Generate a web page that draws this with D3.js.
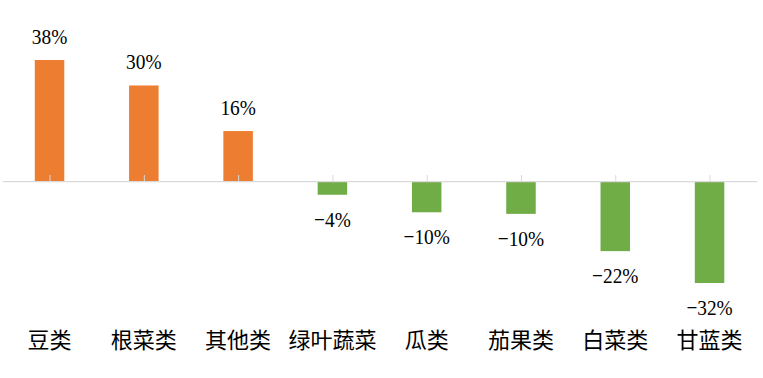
<!DOCTYPE html>
<html>
<head>
<meta charset="utf-8">
<script src="https://cdn.jsdelivr.net/npm/d3@7"></script>
<style>
  html, body { margin: 0; padding: 0; background: #fff; }
  svg { display: block; }
</style>
</head>
<body>
<svg id="chart" width="763" height="378"></svg>
<script>
// ---- data ----
const categories = ["豆类", "根菜类", "其他类", "绿叶蔬菜", "瓜类", "茄果类", "白菜类", "甘蓝类"];
const values = [38.0, 30.0, 15.7, -4.3, -9.8, -10.3, -22.0, -32.0];
const labels = ["38%", "30%", "16%", "\u22124%", "\u221210%", "\u221210%", "\u221222%", "\u221232%"];

const data = categories.map((c, i) => ({ cat: c, value: values[i], label: labels[i] }));

// ---- layout ----
const W = 763, H = 378;
const svg = d3.select("#chart");

const x = d3.scalePoint().domain(categories).range([2.4, 756.7]).padding(0.5);
const y = d3.scaleLinear().domain([-32, 38]).range([283, 60]);
const barW = 29.5;

const posColor = "#ED7D31";
const negColor = "#70AD47";

// bars
svg.append("g").selectAll("rect").data(data).join("rect")
  .attr("x", d => x(d.cat) - barW / 2)
  .attr("y", d => Math.min(y(d.value), y(0)))
  .attr("width", barW)
  .attr("height", d => Math.abs(y(d.value) - y(0)))
  .attr("fill", d => d.value >= 0 ? posColor : negColor);

// zero axis with ticks at category centres
const axis = svg.append("g")
  .attr("transform", `translate(0,${y(0)})`)
  .call(d3.axisTop(x).tickSize(6).tickSizeOuter(0).tickFormat(""));
axis.select(".domain").attr("stroke", "#D9D9D9").attr("stroke-width", 1.2);
axis.selectAll(".tick line").attr("stroke", "#D9D9D9").attr("stroke-width", 1);

// value labels
svg.append("g").selectAll("text").data(data).join("text")
  .attr("transform", d => {
    const ty = d.value >= 0 ? y(d.value) - 16 : y(d.value) + 32;
    return `translate(${x(d.cat)},${ty}) scale(0.9,1)`;
  })
  .attr("text-anchor", "middle")
  .attr("font-family", "'Liberation Serif', 'DejaVu Serif', serif")
  .attr("font-size", 21.5)
  .attr("fill", "#000")
  .text(d => d.label);

// category labels
svg.append("g").selectAll("text").data(data).join("text")
  .attr("x", d => x(d.cat))
  .attr("y", 337.5)
  .attr("text-anchor", "middle")
  .attr("dominant-baseline", "central")
  .attr("font-family", "'Noto Sans CJK SC', sans-serif")
  .attr("font-size", 22)
  .attr("fill", "#000")
  .text(d => d.cat);
</script>
</body>
</html>
